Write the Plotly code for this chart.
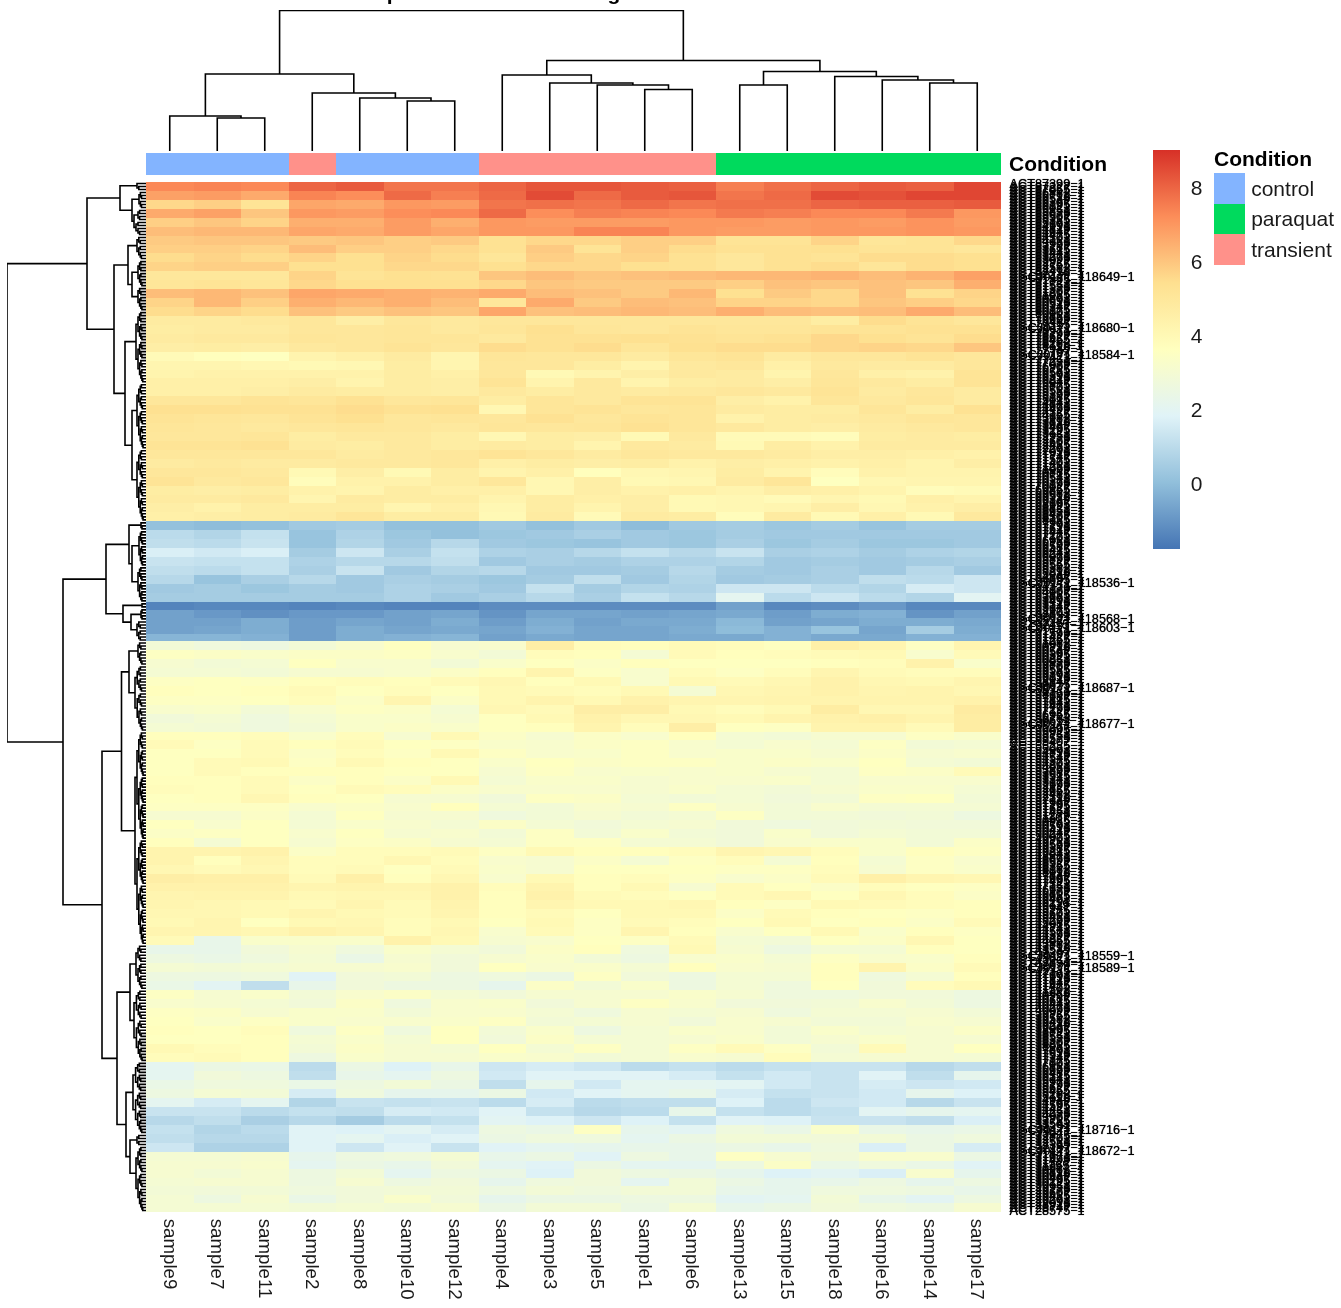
import plotly.graph_objects as go

samples = ["sample9","sample7","sample11","sample2","sample8","sample10","sample12","sample4","sample3",
           "sample5","sample1","sample6","sample13","sample15","sample18","sample16","sample14","sample17"]
condition_names = ["control","paraquat","transient"]
sample_condition = [0,0,0,2,0,0,0,2,2,2,2,2,1,1,1,1,1,1]
condition_colors = ["#83B4FF","#00DA5D","#FF918A"]
heat_colors = ["#4575B4","#91BFDB","#E0F3F8","#FFFFBF","#FEE090","#FC8D59","#D73027"]
colorbar_ticks = [0,2,4,6,8]
title_text = "Heatmap of miRNA-derived log2 counts"

block_genes = [113,27,13,30,71,39,30,20]

block_a = [
[7.3,7.4,7.3,8.0,8.2,7.7,7.7,8.0,8.3,8.3,8.2,8.1,7.5,7.8,8.0,8.2,8.1,8.6],
[6.8,6.9,6.6,7.4,7.2,7.9,7.5,7.9,8.5,7.9,8.2,8.3,7.7,7.9,8.5,8.4,8.6,8.6],
[5.6,5.8,5.2,6.7,6.6,7.0,6.9,7.7,7.8,7.7,7.9,7.7,7.8,7.8,8.0,8.1,8.1,8.2],
[6.6,6.8,6.0,7.0,6.9,7.2,7.3,7.9,7.2,7.5,7.4,7.3,7.6,7.5,7.3,7.3,7.6,7.0],
[5.8,6.0,5.7,6.5,6.5,6.9,6.5,7.0,6.9,6.9,6.9,7.0,7.0,6.9,7.0,6.9,7.1,6.9],
[6.2,6.3,6.3,6.7,6.6,6.9,6.7,7.0,7.0,7.4,7.4,7.0,6.9,6.9,7.0,7.0,7.1,7.0],
[5.9,6.0,6.0,5.9,6.0,5.8,5.9,5.3,5.6,5.6,5.8,5.8,5.2,5.2,5.7,5.1,5.2,5.6],
[5.8,5.8,5.7,6.2,5.8,5.8,5.6,5.3,5.9,5.2,5.8,5.5,5.3,5.3,5.4,5.2,5.2,5.0],
[5.5,5.7,5.5,5.7,5.4,5.7,5.5,5.1,5.8,5.6,5.7,5.3,5.0,5.3,5.2,5.5,5.5,5.4],
[5.7,5.8,5.8,5.4,5.4,5.6,5.6,5.4,5.6,5.6,5.4,5.3,5.0,5.3,5.5,5.1,5.5,5.4],
[5.0,5.0,5.0,5.7,5.2,5.4,5.3,6.0,6.2,6.0,6.1,6.2,6.3,6.3,6.4,6.2,6.4,6.8],
[5.1,5.2,5.1,5.6,5.4,5.4,5.4,5.6,6.0,5.9,5.9,5.9,5.8,6.1,6.0,6.1,6.0,6.5],
[6.2,6.3,6.1,6.7,6.6,6.5,6.4,6.6,6.2,6.1,5.9,6.3,5.4,5.9,5.6,6.1,5.3,5.7],
[5.7,6.3,5.8,6.5,6.3,6.5,6.2,5.0,6.6,5.9,6.2,6.1,5.7,5.7,5.6,6.0,5.8,5.6],
[5.5,5.7,5.5,6.1,5.9,6.1,6.0,6.7,6.1,6.2,6.3,6.2,6.5,6.2,6.1,6.2,6.6,6.2],
[4.8,4.8,4.9,5.0,4.6,5.0,4.9,5.0,5.0,5.0,5.0,5.0,5.0,5.0,4.7,5.5,5.2,5.0],
[4.7,4.8,4.8,5.0,5.0,5.1,4.9,5.1,5.4,5.1,5.0,5.2,5.1,5.1,5.2,5.2,5.3,5.3],
[4.8,4.9,4.9,5.1,5.0,5.1,5.1,4.9,5.3,5.3,5.4,5.3,5.2,5.3,5.6,5.4,5.2,5.5],
[4.6,4.7,4.6,4.9,5.0,5.2,5.0,5.5,5.3,5.5,5.1,5.4,5.5,5.5,5.6,5.7,5.6,6.0],
[3.9,3.7,3.6,4.3,4.5,4.8,4.2,5.1,5.0,5.0,4.8,5.1,5.2,4.8,5.0,5.0,5.2,5.0],
[4.2,4.2,4.1,4.0,4.1,4.7,4.2,5.0,5.0,4.7,4.3,4.9,5.0,4.5,4.9,4.8,4.8,5.0],
[4.3,4.4,4.4,4.4,4.4,4.7,4.5,5.0,4.0,4.3,4.6,4.9,4.8,4.3,5.0,4.5,4.4,5.2],
[4.5,4.5,4.5,4.6,4.3,4.7,4.6,5.2,4.3,4.9,4.3,4.7,4.8,4.6,5.1,4.9,4.7,5.2],
[4.5,4.5,4.6,4.8,4.7,4.7,4.6,4.9,4.7,4.9,4.8,4.9,5.0,4.9,5.2,4.8,5.0,4.8],
[5.0,5.0,5.2,5.1,5.3,5.0,5.1,4.7,5.1,4.9,5.2,5.2,4.6,4.4,5.1,4.9,5.1,4.8],
[5.4,5.4,5.3,5.3,5.5,5.3,5.4,4.1,5.1,5.2,5.0,5.1,4.8,4.7,4.7,5.1,4.7,5.3],
[5.2,5.1,5.0,5.2,5.4,5.0,5.1,5.0,5.3,5.0,5.2,5.1,4.4,4.7,4.8,4.9,5.1,5.0],
[5.1,5.0,4.9,5.0,5.1,5.0,4.9,5.1,5.0,5.1,5.3,5.1,4.9,4.7,4.6,4.8,4.9,5.0],
[5.0,5.0,5.1,4.7,4.9,4.9,4.7,4.1,4.7,4.6,4.0,4.9,3.9,3.9,3.8,4.7,4.8,4.7],
[5.2,5.2,5.3,4.8,4.7,4.9,4.7,4.8,4.7,4.3,4.9,4.8,4.0,4.7,4.4,4.8,4.8,4.8],
[5.0,5.0,5.0,5.0,4.8,4.9,5.0,5.2,5.0,4.8,5.0,4.9,4.9,4.8,4.6,4.6,4.5,4.4],
[4.8,4.9,4.8,4.8,4.9,4.9,5.0,4.5,4.7,4.6,4.7,4.4,4.6,4.5,4.4,4.5,4.3,4.6],
[5.0,5.0,4.9,4.0,4.6,4.0,4.7,4.3,4.5,3.7,4.1,4.2,4.7,4.3,3.8,4.4,4.3,4.3],
[5.2,4.9,5.0,3.8,4.4,4.4,4.7,5.0,4.1,4.6,4.0,4.1,4.8,5.1,3.6,4.1,4.2,4.2],
[4.7,4.6,4.7,4.4,4.3,4.7,4.5,4.5,4.1,4.6,4.4,4.5,4.3,4.6,4.5,4.3,3.8,3.9],
[4.8,4.8,4.9,4.2,4.8,4.7,4.7,4.3,4.7,4.5,4.6,4.0,4.1,3.9,4.2,4.0,4.5,4.3],
[4.6,4.4,4.7,4.7,4.7,4.2,4.5,4.1,4.7,4.3,4.6,4.0,4.1,4.2,4.6,4.1,4.4,4.6],
[4.5,4.6,4.7,4.8,5.1,4.7,4.7,4.0,4.8,3.9,4.8,4.7,3.8,4.8,4.0,4.5,4.0,4.9],
]
block_b = [
[0.1,0.0,0.1,0.4,0.5,0.1,0.1,0.4,0.1,0.4,0.0,0.4,0.5,0.3,0.5,0.2,0.5,0.5],
[1.0,0.8,1.2,0.2,0.7,0.3,0.1,0.3,0.4,0.6,0.4,0.3,0.5,0.4,0.4,0.4,0.4,0.4],
[1.1,1.0,1.3,0.2,0.8,0.4,0.9,0.4,0.3,0.2,0.4,0.3,0.6,0.3,0.5,0.3,0.3,0.4],
[1.7,1.5,1.7,0.5,1.4,0.6,1.2,0.7,0.6,0.9,1.2,0.9,1.3,0.6,0.7,0.5,0.7,0.8],
[1.3,1.2,1.2,0.7,0.9,0.9,1.1,0.4,0.6,0.5,0.7,0.7,0.8,0.4,0.5,0.4,0.5,0.6],
[1.1,1.0,1.2,0.6,1.3,0.4,0.8,0.9,0.4,0.4,0.5,0.9,0.5,0.4,0.6,0.4,0.9,0.4],
[0.9,0.2,0.6,0.9,0.4,0.6,0.5,0.3,0.5,1.1,0.4,0.8,0.4,0.5,0.6,1.1,1.0,1.4],
[0.4,0.5,0.3,0.5,0.4,0.7,0.6,0.4,1.2,0.5,0.8,0.7,1.4,1.4,1.0,0.8,1.6,1.4],
[0.5,0.5,0.5,0.5,0.5,0.7,0.4,0.6,0.9,0.6,1.2,0.9,2.1,1.0,1.4,1.0,0.8,2.0],
]
block_c = [
[-1.4,-1.3,-1.3,-1.4,-1.3,-1.4,-1.4,-1.2,-1.2,-1.2,-1.2,-1.2,-0.7,-1.3,-1.2,-0.9,-1.3,-1.3],
[-0.7,-0.9,-1.1,-0.9,-0.9,-0.7,-0.6,-1.0,-0.6,-0.6,-0.7,-0.6,-0.5,-0.8,-0.4,-0.3,-1.0,-0.7],
[-0.7,-0.7,-0.4,-0.8,-0.6,-0.7,-0.4,-0.8,-0.4,-0.7,-0.5,-0.5,-0.1,-0.7,-0.6,-0.4,-0.4,-0.5],
[-0.7,-0.6,-0.4,-0.8,-0.4,-0.6,-0.5,-0.6,-0.3,-0.6,-0.6,-0.4,0.0,-0.3,0.2,-0.6,0.5,-0.4],
[-0.2,-0.2,-0.3,-0.8,-0.4,-0.3,-0.2,-0.7,-0.5,-0.6,-0.6,-0.5,-0.5,-0.3,-0.5,-0.5,-0.3,-0.3],
]
block_d = [
[2.9,2.7,2.6,2.9,3.2,3.6,3.1,3.2,4.6,3.8,3.7,3.9,3.8,3.6,4.5,4.2,3.5,4.2],
[3.5,3.4,3.3,3.4,3.4,3.5,3.2,2.9,3.8,3.7,3.0,3.9,3.7,3.8,3.9,4.0,3.2,3.9],
[3.1,2.9,3.0,3.6,3.2,3.2,2.9,3.3,3.6,3.4,3.7,3.6,3.6,3.6,3.7,3.8,4.4,3.3],
[3.0,3.0,2.9,3.1,3.1,3.2,3.4,3.7,4.3,3.5,3.2,3.8,3.5,3.8,4.2,3.9,3.8,3.8],
[3.5,3.6,3.5,3.7,3.8,3.7,3.9,4.1,3.7,4.0,3.2,4.0,3.9,4.1,4.4,4.1,4.0,4.2],
[3.7,3.6,3.7,3.9,3.6,3.8,3.6,4.0,3.9,3.8,4.0,3.0,4.1,4.2,4.4,4.2,4.3,4.1],
[3.5,3.5,3.6,3.8,3.4,4.2,3.4,4.0,4.3,4.0,4.4,4.2,4.2,4.3,4.3,4.3,4.3,4.4],
[3.2,3.3,2.9,3.2,3.5,3.4,3.0,4.1,3.9,4.6,4.6,4.0,3.8,4.0,4.7,4.1,4.1,4.8],
[2.8,3.0,2.7,3.0,3.3,3.3,3.1,3.6,4.0,4.4,4.1,4.1,4.0,4.3,4.4,4.5,4.3,4.7],
[3.0,2.9,2.7,2.9,3.3,3.4,3.3,3.6,3.7,4.3,3.8,4.6,3.6,3.5,4.3,4.3,3.9,4.7],
]
block_e = [
[3.7,3.7,3.8,3.3,3.8,3.1,4.0,3.4,3.1,3.4,3.2,3.7,3.0,2.9,3.1,3.1,3.5,3.3],
[3.9,3.5,3.9,3.7,3.9,3.6,3.5,3.3,3.2,3.4,3.5,3.2,3.0,3.2,3.0,3.5,2.9,3.0],
[3.6,3.6,3.9,3.4,3.8,3.5,4.0,3.5,3.2,3.3,3.5,3.2,3.3,3.3,3.1,3.4,3.1,3.2],
[3.6,3.9,4.0,3.5,4.0,3.7,3.6,3.3,3.6,3.4,3.5,3.5,3.3,3.4,3.3,3.6,3.0,2.9],
[3.6,3.9,3.7,3.7,3.7,3.6,3.6,3.1,3.5,3.2,3.3,3.2,3.3,3.1,3.0,3.5,3.4,3.9],
[3.7,3.7,3.9,3.4,3.7,3.4,4.0,3.0,3.3,3.3,3.1,3.2,3.2,3.3,3.0,3.2,3.2,3.2],
[3.8,3.7,3.9,3.6,3.9,3.8,3.4,3.2,3.2,3.2,3.1,3.3,3.0,2.9,3.1,3.3,3.3,3.0],
[3.6,3.7,4.1,3.7,3.6,3.1,3.1,2.8,3.5,3.4,3.0,2.9,3.0,2.8,2.9,3.5,3.6,2.9],
[3.5,3.5,3.5,3.2,3.4,3.2,3.7,3.0,2.9,3.2,3.1,3.5,3.1,2.9,3.2,3.0,3.0,3.0],
[3.1,3.1,3.4,3.0,3.6,3.1,3.1,2.7,2.9,3.1,2.9,3.0,3.5,2.9,2.9,2.8,2.9,2.6],
[3.6,3.2,3.6,3.0,3.3,3.2,3.0,3.4,3.0,2.8,3.0,3.1,2.8,2.7,2.8,2.9,2.8,2.8],
[3.4,3.5,3.6,3.2,3.6,3.1,3.2,2.9,3.5,2.9,3.3,2.9,2.8,3.3,2.8,3.0,2.9,2.9],
[3.7,3.0,3.6,3.1,3.5,3.4,3.1,3.0,3.5,3.5,3.0,3.0,2.8,3.2,3.3,3.3,2.9,3.4],
[4.3,4.3,4.4,3.4,3.8,3.8,3.9,3.5,4.0,3.7,3.7,3.8,4.2,4.1,3.8,3.3,3.7,3.5],
[4.3,3.7,4.2,3.8,3.8,4.1,3.8,3.2,3.1,3.4,3.0,3.5,3.8,3.0,3.7,3.0,3.5,3.2],
[4.1,3.9,4.1,3.8,3.9,3.6,3.9,3.3,3.1,3.6,3.6,3.6,3.5,3.5,3.8,3.1,3.5,3.3],
[4.6,4.5,4.5,3.9,4.5,3.7,4.1,3.2,4.0,3.7,3.8,3.5,3.2,3.4,3.9,4.5,4.2,4.1],
[4.4,4.4,4.4,4.2,4.3,4.2,4.4,3.8,4.3,3.7,4.0,3.1,3.9,3.6,3.4,3.8,3.6,3.5],
[4.2,4.3,4.3,4.0,4.1,4.1,4.4,3.7,4.4,3.9,3.8,3.6,3.9,4.1,3.6,4.1,3.8,3.4],
[4.2,4.1,4.0,3.9,4.2,3.9,4.3,3.7,4.2,4.0,4.0,4.1,3.7,3.5,4.0,3.9,3.8,3.7],
[4.1,4.1,4.0,4.2,4.0,3.9,4.2,3.7,3.9,3.6,4.0,4.0,3.4,3.9,3.7,3.6,3.5,3.7],
[4.0,4.2,3.6,4.0,4.1,3.8,4.0,3.6,4.0,3.5,3.9,3.8,3.6,4.0,3.6,3.7,3.4,3.9],
[4.2,4.2,4.1,4.4,4.2,3.8,4.1,3.2,3.9,3.5,4.2,3.7,3.2,3.6,4.0,3.3,3.7,3.5],
[3.9,2.3,3.3,3.3,3.3,4.4,4.0,3.1,3.2,3.6,3.5,3.9,3.0,2.9,3.6,3.4,4.1,3.6],
]
block_f = [
[2.3,2.3,2.8,3.1,2.7,3.3,3.0,2.8,3.4,3.7,2.7,4.0,3.1,2.6,3.0,3.0,3.7,3.6],
[2.6,2.4,2.7,3.0,2.4,3.1,2.8,3.1,3.3,2.9,2.6,3.2,3.3,3.0,3.5,3.2,3.3,3.7],
[3.0,2.9,3.0,3.1,3.1,3.2,2.8,3.6,3.2,3.3,3.0,3.7,3.2,3.1,3.7,4.3,3.4,3.9],
[2.6,2.6,2.7,1.9,2.8,2.9,2.6,2.7,2.5,3.5,2.8,2.6,3.0,3.0,3.7,2.7,3.0,3.7],
[2.4,2.0,1.1,2.3,2.8,2.6,2.6,2.2,3.4,2.9,3.3,2.6,3.0,2.7,3.6,2.8,3.8,4.0],
[3.5,3.1,3.3,2.9,3.2,3.4,3.0,2.8,3.1,3.1,3.1,3.3,3.1,2.7,2.7,2.8,2.8,2.6],
[3.2,3.1,3.0,2.8,3.4,2.7,3.2,3.3,2.8,3.1,3.5,3.2,2.8,2.8,2.9,3.2,2.9,2.6],
[3.5,3.4,3.1,3.3,3.3,2.9,3.2,3.2,3.0,2.7,3.1,3.0,3.1,2.7,3.0,3.0,3.1,2.9],
[3.6,3.3,3.5,3.3,3.2,3.2,3.3,3.5,2.9,3.0,3.1,2.8,3.2,3.1,2.9,2.9,3.2,3.1],
[3.7,3.6,3.8,2.7,3.5,2.7,3.6,2.9,3.3,2.6,3.0,3.3,3.2,2.9,3.3,3.0,3.1,3.4],
[3.6,3.6,3.7,3.0,3.3,3.0,3.6,2.8,3.4,3.0,3.0,3.1,3.3,2.9,3.1,3.3,3.1,3.1],
[4.0,3.8,3.7,2.9,3.4,3.1,3.0,3.6,3.0,3.5,3.0,3.5,3.9,3.5,2.9,3.9,3.1,3.6],
[3.8,3.9,3.7,2.6,3.3,3.1,3.1,3.3,3.2,2.9,3.0,3.2,3.1,3.8,3.0,3.1,3.1,3.0],
]
block_g = [
[2.1,2.5,2.4,1.0,2.5,1.8,2.3,1.4,1.6,1.4,1.0,1.2,1.0,1.2,1.3,1.3,0.9,1.1],
[2.1,2.8,2.6,1.1,2.3,2.1,2.6,1.5,1.9,1.9,1.9,1.6,1.2,1.5,1.3,1.9,1.1,2.2],
[2.4,2.7,2.7,2.4,2.6,2.9,2.5,1.1,2.2,1.5,2.1,2.1,2.0,1.5,1.3,1.6,1.4,1.5],
[2.6,3.0,2.9,1.6,2.7,2.2,2.2,2.5,1.5,1.9,2.1,2.3,1.6,1.2,1.3,1.5,2.2,1.8],
[2.1,1.6,2.1,0.8,1.3,1.2,1.3,1.0,1.6,1.0,1.1,1.1,1.8,1.0,1.4,1.5,0.9,1.3],
[1.3,1.3,1.0,1.2,1.1,1.6,1.5,1.9,1.2,0.9,1.0,2.3,1.2,1.0,1.2,2.0,2.2,2.1],
[0.9,1.1,0.6,0.9,0.5,1.0,1.2,2.0,1.8,1.4,1.8,1.2,1.9,1.8,1.3,1.3,1.1,1.7],
[1.2,0.8,1.0,1.9,1.8,2.0,1.6,2.6,2.4,3.5,2.2,2.0,2.7,2.4,3.3,2.4,2.3,2.4],
[1.1,0.9,0.9,1.9,2.1,1.7,1.9,2.5,2.7,2.7,2.1,2.5,2.9,2.9,2.8,2.9,2.5,2.7],
[1.4,0.7,0.7,1.9,1.4,1.9,1.3,1.9,2.1,2.2,2.3,2.3,2.5,2.3,2.7,1.7,2.5,1.6],
]
block_h = [
[3.0,3.0,3.1,2.2,2.6,2.7,3.0,2.3,2.5,1.9,2.6,2.3,3.5,3.1,2.8,3.2,3.2,2.5],
[3.1,3.1,3.2,2.1,2.5,2.3,2.8,2.1,1.9,2.5,2.1,2.1,2.6,3.4,2.4,2.7,2.4,1.9],
[3.1,2.9,3.1,2.6,2.9,2.1,2.6,2.5,1.8,2.8,2.6,2.5,2.2,1.8,2.0,1.7,3.2,2.2],
[3.0,3.1,3.1,2.6,3.1,2.6,2.8,2.2,2.7,2.8,2.1,2.9,2.5,2.2,2.3,2.6,2.2,2.6],
[2.9,2.8,2.9,2.7,2.8,2.9,2.9,2.6,2.9,2.7,2.9,2.9,2.3,2.2,2.7,2.7,2.6,2.3],
[3.0,2.6,3.1,2.4,2.8,3.3,2.8,2.2,2.5,2.5,2.6,2.6,2.0,2.1,2.9,2.3,2.0,2.6],
[3.0,3.0,3.0,2.9,3.0,2.9,3.1,2.5,2.9,2.9,2.5,3.0,2.3,2.5,2.8,2.7,2.6,3.1],
]
blocks = [block_a,block_b,block_c,block_d,block_e,block_f,block_g,block_h]

# long row labels that stand out from the overprinted label column: gene slot -> text
long_labels = {31:"AGCJ0171_118649\u22121",48:"AGCJ0171_118680\u22121",57:"AGCJ0171_118584\u22121",
               133:"AGCJ0171_118536\u22121",145:"AGCJ0171_118568\u22121",148:"AGCJ0171_118603\u22121",
               168:"AGCJ0171_118687\u22121",180:"AGCJ0171_118677\u22121",257:"AGCJ0171_118559\u22121",
               261:"AGCJ0171_118589\u22121",315:"AGCJ0171_118716\u22121",322:"AGCJ0171_118672\u22121"}

# column dendrogram: merge heights
col_tree = (140.5,
  (77,(35,0,(33,1,2)),(58,3,(53,4,(50,5,6)))),
  (90.5,(76,7,(68,8,(66,9,(61.5,10,11)))),
        (79.5,(66,12,13),(74.5,14,(71,15,(68,16,17))))))
# row dendrogram: (height,left,right); (height,n) is a tight cluster of n genes
row_tree = (139,
  (59,
    (26,(9,3),(14,(7,6),(12,(8,4),(10,5)))),
    (32,(18,(9,8),(14,(8,9),(8,8))),
        (21,(10,24),(14,(9,22),(9,24))))),
  (83,
    (40,(17,(5,3),(14,(7,12),(8,12))),
        (23,(4,2),(15,(5,4),(9,7)))),
    (44,
      (24.5,(17,(8,8),(11,22)),(11,(9,36),(9,35))),
      (29,(16,(10,15),(12,24)),
          (20,(13,24),(16,(9,4),(10,22)))))))

W, H = 1341, 1308
def dx(a,b): return [a/W,b/W]
def dy(t,b): return [1-b/H,1-t/H]

z, edges, pos = [], [0.0], 0.0
for blk, g in zip(blocks, block_genes):
    for r in blk:
        z.append(r)
        pos += g/len(blk)
        edges.append(pos)
n_genes = sum(block_genes)

row_labels = []
for i in range(n_genes):
    row_labels.append(long_labels.get(i, f"ACT{87399-i*172}\u22121"))

cs = [[i/(len(heat_colors)-1),c] for i,c in enumerate(heat_colors)]
n_cond = len(condition_colors)
cs_cond = []
for i,c in enumerate(condition_colors):
    cs_cond += [[i/n_cond,c],[(i+1)/n_cond,c]]

FONT = "Liberation Sans"
fig = go.Figure()

fig.add_trace(go.Heatmap(z=z, x=list(range(len(samples))), y=edges, zmin=-1.76, zmax=9.03, colorscale=cs,
    xaxis="x", yaxis="y", hoverinfo="skip",
    colorbar=dict(x=1153/W, xanchor="left", y=1-150/H, yanchor="top", lenmode="pixels", len=399,
                  thicknessmode="pixels", thickness=27, xpad=0, ypad=0, outlinewidth=0, borderwidth=0,
                  tickvals=colorbar_ticks, ticks="outside", ticklen=7, tickcolor="rgba(0,0,0,0)",
                  tickfont=dict(family=FONT,size=21,color="#1a1a1a"))))

fig.add_trace(go.Heatmap(z=[sample_condition], x=list(range(len(samples))), y=["Condition"], zmin=-0.5, zmax=n_cond-0.5,
    colorscale=cs_cond, showscale=False, xaxis="x2", yaxis="y2", hoverinfo="skip"))

fig.add_trace(go.Heatmap(z=[[0],[1],[2]], x=["key"], y=condition_names, zmin=-0.5, zmax=n_cond-0.5,
    colorscale=cs_cond, showscale=False, xaxis="x3", yaxis="y3", hoverinfo="skip"))

def fine(n, h, start, xs, ys):
    if n == 1:
        return start+0.5, 0.0
    a = max(1, round(n*0.42))
    p1,h1 = fine(a, h*0.8, start, xs, ys)
    p2,h2 = fine(n-a, h*0.8, start+a, xs, ys)
    xs += [h1,h,h,h2,None]; ys += [p1,p1,p2,p2,None]
    return (p1+p2)/2, h

def walk(node, state, xs, ys):
    if isinstance(node,int):
        return node, 0.0
    if len(node) == 2:
        h,n = node
        r = fine(n, h, state[0], xs, ys)
        state[0] += n
        return r
    h,l,r = node
    p1,h1 = walk(l,state,xs,ys)
    p2,h2 = walk(r,state,xs,ys)
    xs += [h1,h,h,h2,None]; ys += [p1,p1,p2,p2,None]
    return (p1+p2)/2, h

hr, pr = [], []
walk(row_tree,[0],hr,pr)
fig.add_trace(go.Scatter(x=hr,y=pr,mode="lines",line=dict(color="black",width=1.6),xaxis="x4",yaxis="y4",
                         hoverinfo="skip",showlegend=False))

hc, pc = [], []
walk(col_tree,None,hc,pc)
fig.add_trace(go.Scatter(x=pc,y=hc,mode="lines",line=dict(color="black",width=1.6),xaxis="x5",yaxis="y5",
                         hoverinfo="skip",showlegend=False))

hidden = dict(showticklabels=False,ticks="",showgrid=False,zeroline=False,showline=False)
colx = [-0.5,len(samples)-0.5]
fig.update_layout(
    width=W,height=H,margin=dict(l=0,r=0,t=0,b=0,autoexpand=False),paper_bgcolor="white",plot_bgcolor="white",showlegend=False,
    xaxis=dict(domain=dx(146,1001),range=colx,tickmode="array",tickvals=list(range(len(samples))),ticktext=samples,
               tickangle=90,ticks="outside",ticklen=2,tickcolor="rgba(0,0,0,0)",showgrid=False,zeroline=False,
               tickfont=dict(family=FONT,size=18.7,color="#1a1a1a")),
    yaxis=dict(domain=dy(182,1212),range=[n_genes,0],side="right",tickmode="array",
               tickvals=[i+0.5 for i in range(n_genes)],ticktext=row_labels,ticks="outside",ticklen=5,
               tickcolor="rgba(0,0,0,0)",showgrid=False,zeroline=False,
               tickfont=dict(family=FONT,size=12.7,color="black",shadow="0 0 0.8px black")),
    xaxis2=dict(domain=dx(146,1001),range=colx,anchor="y2",**hidden),
    yaxis2=dict(domain=dy(153,175),anchor="x2",**hidden),
    xaxis3=dict(domain=dx(1214,1245),anchor="y3",**hidden),
    yaxis3=dict(domain=dy(173,265),anchor="x3",side="right",autorange="reversed",ticks="outside",ticklen=1,
                tickcolor="rgba(0,0,0,0)",showgrid=False,zeroline=False,
                tickfont=dict(family=FONT,size=21,color="#1a1a1a")),
    xaxis4=dict(domain=dx(7,146),range=[139,0],anchor="y4",**hidden),
    yaxis4=dict(domain=dy(182,1212),range=[n_genes,0],anchor="x4",**hidden),
    xaxis5=dict(domain=dx(146,1001),range=colx,anchor="y5",**hidden),
    yaxis5=dict(domain=dy(10,151),range=[0,141],anchor="x5",**hidden),
    annotations=[
        dict(text="<b>Condition</b>",xref="paper",yref="paper",x=1007/W,y=1-164/H,xanchor="left",yanchor="middle",
             showarrow=False,font=dict(family=FONT,size=21,color="black")),
        dict(text="<b>Condition</b>",xref="paper",yref="paper",x=1212/W,y=1-158/H,xanchor="left",yanchor="middle",
             showarrow=False,font=dict(family=FONT,size=21,color="black")),
        dict(text="<b>"+title_text+"</b>",xref="paper",yref="paper",x=309/W,y=1-6/H,xanchor="left",yanchor="bottom",
             showarrow=False,font=dict(family=FONT,size=21,color="black")),
    ])

fig.write_html("out.html",config={"displayModeBar":False},
               post_script="document.body.style.margin='0';document.querySelectorAll('.main-svg').forEach(function(s){s.style.willChange='transform';});")
